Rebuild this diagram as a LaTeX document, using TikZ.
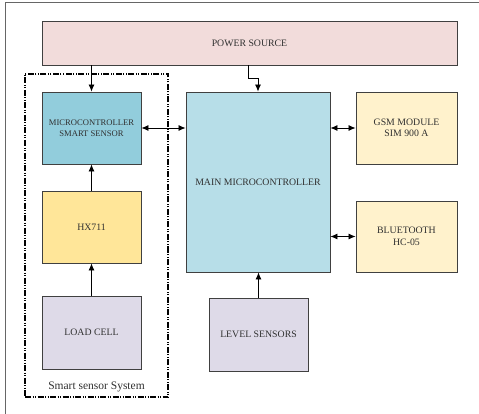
\documentclass[tikz,border=0pt]{standalone}
\usepackage{fontspec}
\setmainfont{Liberation Serif}
\usetikzlibrary{arrows.meta}
\definecolor{pwr}{HTML}{F2DCDB}
\definecolor{smc}{HTML}{92CDDC}
\definecolor{mmc}{HTML}{B7DEE8}
\definecolor{gsm}{HTML}{FFF2CC}
\definecolor{hxc}{HTML}{FFE699}
\definecolor{lav}{HTML}{DEDAE8}
\definecolor{edge}{HTML}{404040}
\definecolor{txt}{HTML}{303030}
\tikzset{
  box/.style={draw=edge, line width=0.9pt, rectangle, inner sep=1pt, align=center,
    text=txt, font=\fontsize{9.8}{11.5}\selectfont},
  arr/.style={-{Latex[length=7pt,width=6pt]}, line width=0.8pt, black},
  darr/.style={{Latex[length=7pt,width=6pt]}-{Latex[length=7pt,width=6pt]}, line width=0.8pt, black},
  dashbox/.style={draw=black, line width=1.4pt, rectangle,
    dash pattern=on 6pt off 1.5pt on 1pt off 1.5pt on 1pt off 1.5pt},
  frameline/.style={draw=edge!80, line width=0.9pt}
}
\begin{document}
\begin{tikzpicture}[x=1pt,y=-1pt]
\useasboundingbox (0,0) rectangle (479,414);
% outer frame (partial)
\coordinate (fTR) at (479,2.5);
\coordinate (fTL) at (5,2.5);
\coordinate (fBL) at (5,414);
\draw[frameline] (fTR) -- (fTL) -- (fBL);
% dashed enclosure
\node[dashbox, minimum width=143, minimum height=323] (sss) at (96.5,235.5) {};
\node[text=txt, font=\fontsize{11.5}{13}\selectfont, inner sep=0] (ssslab) at (96.5,386.5) {Smart sensor System};
% blocks
\node[box, fill=pwr, minimum width=415, minimum height=44] (power) at (249.5,43) {POWER SOURCE};
\node[box, fill=smc, minimum width=99, minimum height=72, font=\fontsize{8.6}{11}\selectfont] (smart) at (91.5,128) {MICROCONTROLLER\\SMART SENSOR};
\node[box, fill=hxc, minimum width=99, minimum height=72] (hx) at (91.5,227) {HX711};
\node[box, fill=lav, minimum width=99, minimum height=73] (load) at (91.5,332.5) {LOAD CELL};
\node[box, fill=mmc, minimum width=144, minimum height=180] (main) at (258,182) {MAIN MICROCONTROLLER};
\node[box, fill=gsm, minimum width=101, minimum height=72] (gsmm) at (406.5,128) {GSM MODULE\\SIM 900 A};
\node[box, fill=gsm, minimum width=101, minimum height=71] (bt) at (406.5,236.5) {BLUETOOTH\\HC-05};
\node[box, fill=lav, minimum width=99, minimum height=73] (level) at (258.5,334.5) {LEVEL SENSORS};
% connectors
\draw[arr] (power.south -| smart.north) -- (smart.north);
\draw[arr] ([xshift=-1.5pt]power.south) -- ++(0,13) -| (main.north);
\draw[arr] (load.north) -- (hx.south);
\draw[arr] (hx.north) -- (smart.south);
\draw[darr] (smart.east) -- (smart.east -| main.west);
\draw[darr] (gsmm.west) -- (gsmm.west -| main.east);
\draw[darr] (bt.west) -- (bt.west -| main.east);
\draw[arr] (level.north) -- (level.north |- main.south);
\end{tikzpicture}
\end{document}
